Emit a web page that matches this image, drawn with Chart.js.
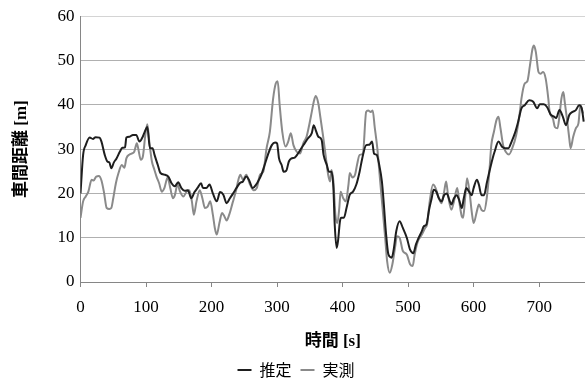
<!DOCTYPE html>
<html>
<head>
<meta charset="utf-8">
<script src="https://cdn.jsdelivr.net/npm/chart.js@4.4.1/dist/chart.umd.min.js"></script>
<style>
  html, body { margin: 0; padding: 0; background: #fff; }
  #wrap { width: 585px; height: 391px; }
</style>
</head>
<body>
<div id="wrap"><canvas id="c" width="585" height="391"></canvas></div>
<script>
// 推定 (estimated headway) — time [s] and distance [m]
const estTime = [0,4,8,14,19,23,29,32,37,41,44,47,51,55,60,64,68,70,75,80,85,90,95,98,102,106,110,113,118,122,129,134,139,144,149,154,159,164,169,174,179,184,187,192,197,202,208,213,218,223,228,233,238,243,248,253,257,263,268,271,276,281,286,292,297,300,303,307,310,314,318,322,327,332,337,342,347,353,356,359,363,368,371,376,379,383,386,388,391,393,396,398,402,406,411,416,421,426,430,436,441,445,448,452,456,460,463,466,470,475,478,482,487,492,498,503,508,512,515,521,524,528,532,536,539,543,547,551,555,559,563,566,570,574,578,582,585,589,593,597,600,605,608,612,616,620,624,629,632,638,643,648,653,658,663,668,673,678,685,691,697,701,707,712,718,722,726,731,736,741,746,751,756,761,765,768];
const estDist = [20,28.7,30.9,32.6,32.3,32.7,32.6,31.7,28.7,27.2,27,25.7,27,27.9,29.4,30.3,30.4,32.6,32.8,33.2,33.2,31.7,32.8,33.9,35,30.2,30.2,28.7,26.4,24.6,24.2,23.8,22.3,21.6,22.5,21.2,20.6,20.7,18.9,20.3,21.3,22.3,21.2,21.2,22,20,18.2,20.3,19.7,17.8,18.9,20,21.2,22.3,22.7,23.8,23.1,21.2,22,22.7,24.2,26.4,28.7,30.9,31.5,31.3,27.9,26.4,24.9,25.1,27.2,27.9,28.1,29,30.2,31.3,32.4,33.6,35.4,34.3,32.8,32.1,28.7,26.4,24.9,24.9,21.2,13,7.7,9.2,13.7,14.5,14.5,16.7,19.7,20.4,22,24.9,27.9,30.9,31,31.7,29,28.7,26.4,22.7,17.5,11.5,6.2,5.5,7.3,11.5,13.7,12.2,10,7.3,6.5,8.5,9.6,11.5,12.6,13,16.3,18.9,20.8,20.4,18.9,18.2,19.6,20,18.5,17.5,18.9,19.6,18.5,16.7,18.9,21.2,20.4,19.6,21.2,23.1,22,19.6,19.6,22.3,24.9,27.9,29.4,31.7,30.6,30.2,30.2,31.7,33.6,36.2,39.2,39.9,41,40.7,39.2,40.1,40.1,39.5,37.7,37.4,37,38.8,37.4,35.4,37.7,38.4,38.8,39.9,39.2,36.2];

// 実測 (measured headway) — time [s] and distance [m]
const measTime = [0,4,8,12,17,20,24,28,32,36,40,44,47,50,54,58,63,67,70,75,78,82,86,88,92,95,99,102,105,109,112,116,120,124,128,133,137,141,144,148,152,157,162,166,170,173,177,182,186,190,194,198,202,205,208,212,216,219,223,227,232,237,241,244,248,253,258,264,269,274,279,284,289,294,298,301,304,308,313,317,321,325,330,335,340,345,349,353,356,359,363,366,370,374,378,381,383,386,389,392,395,397,401,405,409,411,415,419,422,426,431,436,439,443,446,449,453,457,461,465,468,472,476,480,483,487,492,498,503,507,510,515,521,526,529,533,538,542,547,551,555,558,561,566,570,575,578,582,584,587,590,594,597,600,605,608,612,616,620,624,627,631,635,638,641,645,649,654,659,665,670,673,678,682,686,690,692,695,699,702,706,710,714,716,721,724,728,731,734,737,739,743,746,748,752,756,760,763,767];
const measDist = [14.5,18.2,19.3,20.4,23.1,22.9,23.8,23.9,22.9,20.1,16.7,16.5,16.7,18.9,22.3,24.6,26.4,25.8,27.9,28.8,29,29.4,31.3,30.2,27.6,28.2,33.2,35.6,31.7,27.2,25.7,23.8,22.3,20.4,21.2,23.6,21.2,18.9,19.6,22,20.4,19.3,20.4,20.7,18.2,15.2,18.2,20.7,18.9,16.7,17,18.2,15.2,12.2,10.7,13.3,15.6,15,13.9,15.2,17.8,20.4,23.1,24.2,23.1,24.2,22.3,20.7,21.2,24.2,24.9,30.2,33.9,41.4,44.8,45.3,39.9,33.9,30.6,31.7,33.6,30.9,29.4,29,31.3,32.8,35.4,38.4,40.7,42,40.3,37.3,33.2,28.7,24.2,22.7,25.3,22.7,15.2,13.3,16.7,20.4,18.9,18.2,22,24.6,23.6,24.2,26.4,28.7,29,38.4,38.7,38.4,38.7,35,30.2,23.4,16.7,10,4.7,2.1,4,7.7,10.3,10,7,6.2,4,3.6,6.2,9.2,10.7,12.2,13,18.2,22,21.2,18.9,17.8,20.4,22.7,19.6,16.3,18.2,21.2,18.2,14.8,14.5,18.9,23.4,20,16,13.3,16,17.5,16.3,16,18.9,24.9,30.9,33.9,36.6,37.3,34.7,30.9,29.4,28.8,30.2,33.2,37.7,41.4,44.8,45.3,48.9,52.7,53.4,51.9,47.4,47,47.4,45.9,41.4,38.4,36.9,35,34.7,37.4,41.4,42.9,40.7,36.2,32.4,30.2,32.8,34.7,35.8,39.9,38];

// axis ticks
const xTicks = [0,100,200,300,400,500,600,700];
const yTicks = [0,10,20,30,40,50,60];

const seriesNames = ['推定', '実測'];

const toPoints = (ts, vs) => ts.map((t, i) => ({ x: t, y: vs[i] }));

const serif = "'Liberation Serif', 'Times New Roman', serif";
const titleFont = "'Liberation Serif', 'Noto Sans CJK JP', serif";
const axisGrey = '#868686';

new Chart(document.getElementById('c'), {
  type: 'line',
  data: {
    datasets: [
      {
        label: seriesNames[0],
        data: toPoints(estTime, estDist),
        borderColor: '#1e1e1e',
        backgroundColor: '#1e1e1e',
        borderWidth: 2,
        pointRadius: 0,
        cubicInterpolationMode: 'monotone'
      },
      {
        label: seriesNames[1],
        data: toPoints(measTime, measDist),
        borderColor: '#8a8a8a',
        backgroundColor: '#8a8a8a',
        borderWidth: 2,
        pointRadius: 0,
        cubicInterpolationMode: 'monotone'
      }
    ]
  },
  options: {
    responsive: false,
    animation: false,
    layout: { padding: { top: 14, left: 7, right: 0, bottom: 3 } },
    plugins: {
      tooltip: { enabled: false },
      legend: {
        position: 'bottom',
        labels: {
          color: '#000',
          font: { family: "'Noto Sans CJK JP', sans-serif", size: 16 },
          boxWidth: 14,
          boxHeight: 2,
          padding: 9,
          generateLabels(chart) {
            const items = Chart.defaults.plugins.legend.labels.generateLabels(chart);
            items.forEach(it => { it.lineWidth = 0; });
            return items;
          }
        }
      }
    },
    scales: {
      x: {
        type: 'linear',
        min: 0,
        max: 770,
        afterBuildTicks(scale) {
          scale.ticks = xTicks.map(v => ({ value: v }));
        },
        afterFit(scale) { scale.height = 71; },
        ticks: {
          color: '#000',
          font: { family: serif, size: 17 },
          padding: 10,
          maxRotation: 0,
          autoSkip: false
        },
        grid: {
          drawOnChartArea: false,
          drawTicks: true,
          tickLength: 5,
          color: axisGrey
        },
        border: { color: axisGrey, width: 1 },
        title: {
          display: true,
          text: '時間 [s]',
          color: '#000',
          font: { family: titleFont, size: 17, weight: 'bold' },
          padding: { top: 4, bottom: 1 }
        }
      },
      y: {
        min: 0,
        max: 60,
        afterBuildTicks(scale) {
          scale.ticks = yTicks.map(v => ({ value: v }));
        },
        afterFit(scale) { scale.width = 73.5; },
        ticks: {
          color: '#000',
          font: { family: serif, size: 17 },
          padding: 6
        },
        grid: {
          drawTicks: false,
          color: ctx => (ctx.tick && ctx.tick.value === 60 ? '#d4d4d4' : '#b0b0b0')
        },
        border: { color: axisGrey, width: 1 },
        title: {
          display: true,
          text: '車間距離 [m]',
          color: '#000',
          font: { family: titleFont, size: 17, weight: 'bold' },
          padding: { top: 4, bottom: 4 }
        }
      }
    }
  }
});
</script>
</body>
</html>
